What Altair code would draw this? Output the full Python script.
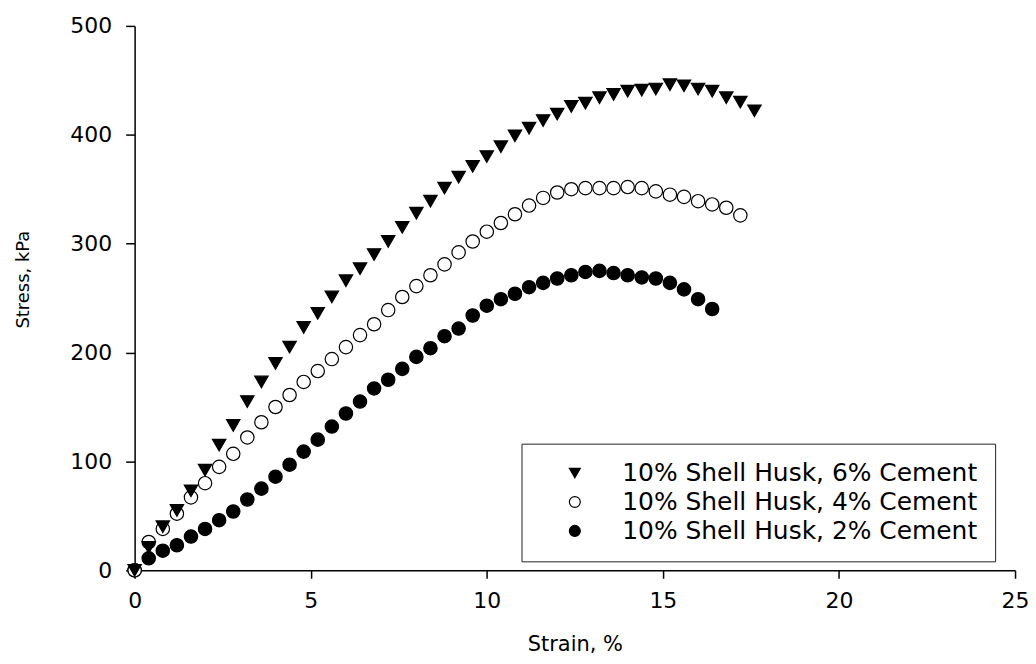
import altair as alt
import pandas as pd

# ---- data ----
series_names = [
    "10% Shell Husk, 6% Cement",
    "10% Shell Husk, 4% Cement",
    "10% Shell Husk, 2% Cement",
]

strain_6 = [0.0, 0.4, 0.8, 1.2, 1.6, 2.0, 2.4, 2.8, 3.2, 3.6, 4.0, 4.4, 4.8, 5.2, 5.6,
            6.0, 6.4, 6.8, 7.2, 7.6, 8.0, 8.4, 8.8, 9.2, 9.6, 10.0, 10.4, 10.8, 11.2,
            11.6, 12.0, 12.4, 12.8, 13.2, 13.6, 14.0, 14.4, 14.8, 15.2, 15.6, 16.0,
            16.4, 16.8, 17.2, 17.6]
stress_6 = [0, 21, 40, 55, 73, 92, 115, 133, 155, 173, 190, 205, 223, 236, 251,
            266, 277, 290, 302, 315, 328, 339, 351, 361, 371, 380, 389, 399, 406,
            413, 419, 426, 429, 434, 437, 440, 441, 442, 446, 445, 442,
            440, 434, 430, 422]

strain_4 = [0.0, 0.4, 0.8, 1.2, 1.6, 2.0, 2.4, 2.8, 3.2, 3.6, 4.0, 4.4, 4.8, 5.2, 5.6,
            6.0, 6.4, 6.8, 7.2, 7.6, 8.0, 8.4, 8.8, 9.2, 9.6, 10.0, 10.4, 10.8, 11.2,
            11.6, 12.0, 12.4, 12.8, 13.2, 13.6, 14.0, 14.4, 14.8, 15.2, 15.6, 16.0,
            16.4, 16.8, 17.2]
stress_4 = [0, 26, 38, 52, 67, 80, 95, 107, 122, 136, 150, 161, 173, 183, 194,
            205, 216, 226, 239, 251, 261, 271, 281, 292, 302, 311, 319, 327, 335,
            342, 347, 350, 351, 351, 351, 352, 351, 348, 345, 343, 339,
            336, 333, 326]

strain_2 = [0.0, 0.4, 0.8, 1.2, 1.6, 2.0, 2.4, 2.8, 3.2, 3.6, 4.0, 4.4, 4.8, 5.2, 5.6,
            6.0, 6.4, 6.8, 7.2, 7.6, 8.0, 8.4, 8.8, 9.2, 9.6, 10.0, 10.4, 10.8, 11.2,
            11.6, 12.0, 12.4, 12.8, 13.2, 13.6, 14.0, 14.4, 14.8, 15.2, 15.6, 16.0,
            16.4]
stress_2 = [0, 11, 18, 23, 31, 38, 46, 54, 65, 75, 86, 97, 109, 120, 132,
            144, 155, 167, 175, 185, 196, 204, 215, 222, 234, 243, 249, 254, 260,
            264, 268, 271, 274, 275, 273, 271, 269, 268, 264, 258, 249,
            240]

x_ticks = [0, 5, 10, 15, 20, 25]
y_ticks = [0, 100, 200, 300, 400, 500]

rows = []
for name, xs, ys in [(series_names[2], strain_2, stress_2),
                     (series_names[1], strain_4, stress_4),
                     (series_names[0], strain_6, stress_6)]:
    for xv, yv in zip(xs, ys):
        rows.append({"series": name, "strain": xv, "stress": yv})
df = pd.DataFrame(rows)

FONT = "DejaVu Sans"

legend_def = alt.Legend(
    title=None,
    orient="none",
    legendX=388,
    legendY=419,
    direction="vertical",
    padding=17,
    strokeColor="#222222",
    fillColor="white",
    cornerRadius=0,
    labelFont=FONT,
    labelFontSize=25,
    labelColor="black",
    labelLimit=600,
    symbolSize=120,
    symbolOffset=24,
    labelOffset=35,
    rowPadding=3,
    symbolStrokeWidth=1.2,
)

chart = alt.Chart(df).mark_point(
    filled=True, opacity=1, fillOpacity=1, strokeOpacity=1, size=180, strokeWidth=1.2
).encode(
    x=alt.X("strain:Q",
            scale=alt.Scale(domain=[0, 25], nice=False, zero=False),
            axis=alt.Axis(values=x_ticks, title="Strain, %", grid=False,
                          labelFlush=False, labelPadding=12, tickSize=8,
                          titleY=74, titleBaseline="middle", titleFontSize=21)),
    y=alt.Y("stress:Q",
            scale=alt.Scale(domain=[0, 500], nice=False),
            axis=alt.Axis(values=y_ticks, title="Stress, kPa", grid=False,
                          labelFlush=False, labelPadding=14, tickSize=9,
                          titleX=-111, titleY=254,
                          titleAngle=270, titleAlign="center",
                          titleBaseline="middle", titleFontSize=18)),
    shape=alt.Shape("series:N",
                    scale=alt.Scale(domain=series_names,
                                    range=["triangle-down", "circle", "circle"]),
                    legend=legend_def),
    fill=alt.Fill("series:N",
                  scale=alt.Scale(domain=series_names,
                                  range=["black", "white", "black"]),
                  legend=legend_def),
    stroke=alt.Stroke("series:N",
                      scale=alt.Scale(domain=series_names,
                                      range=["black", "black", "black"]),
                      legend=legend_def),
).properties(
    width=883,
    height=546,
    autosize=alt.AutoSizeParams(type="none"),
    padding={"left": 127, "top": 17, "right": 13, "bottom": 85},
).configure_view(
    strokeWidth=0
).configure_axis(
    domainColor="black",
    domainWidth=1.5,
    tickColor="black",
    tickWidth=1.5,
    labelFont=FONT,
    labelFontSize=22,
    labelColor="black",
    titleFont=FONT,
    titleFontSize=22,
    titleFontWeight="normal",
    titleColor="black",
)

chart.save("out.html", embed_options={"renderer": "svg", "actions": False})
